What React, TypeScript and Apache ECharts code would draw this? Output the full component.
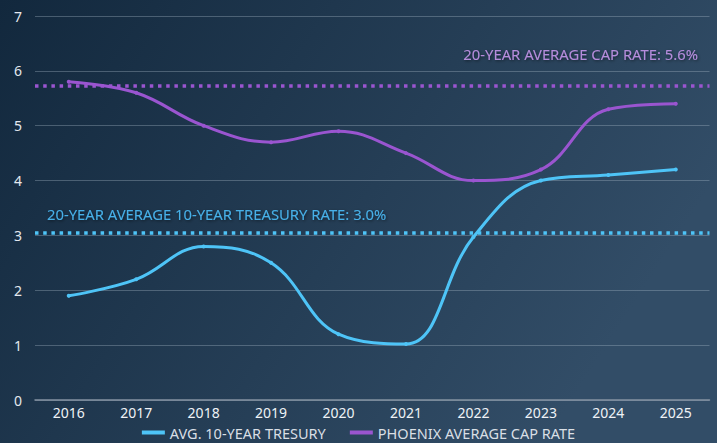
import React, { useEffect, useRef } from "react";
import * as echarts from "echarts";

const years = ["2016", "2017", "2018", "2019", "2020", "2021", "2022", "2023", "2024", "2025"];
const treasury = [1.9, 2.2, 2.8, 2.5, 1.2, 1.02, 2.97, 4.0, 4.1, 4.2];
const capRate = [5.8, 5.6, 5.0, 4.7, 4.9, 4.5, 4.0, 4.2, 5.3, 5.4];
const treasuryAvgLine = 3.04;
const capAvgLine = 5.72;
const treasuryLabel = "20-YEAR AVERAGE 10-YEAR TREASURY RATE: 3.0%";
const capLabel = "20-YEAR AVERAGE CAP RATE: 5.6%";
const seriesNames = ["AVG. 10-YEAR TRESURY", "PHOENIX AVERAGE CAP RATE"];

const FONT = "'Noto Sans', sans-serif";
const BLUE = "#4ec4f7";
const PURPLE = "#9a55d0";

export default function App() {
  const ref = useRef<HTMLDivElement>(null);
  useEffect(() => {
    document.body.style.margin = "0";
    const chart = echarts.init(ref.current!, null, { renderer: "svg" });
    chart.setOption({
      animation: false,
      backgroundColor: {
        type: "linear",
        x: 0,
        y: 0,
        x2: 1,
        y2: 0.4,
        colorStops: [
          { offset: 0, color: "#12283d" },
          { offset: 1, color: "#324d67" },
        ],
      },
      textStyle: { fontFamily: FONT },
      grid: { left: 35, right: 7.5, top: 16, bottom: 43, containLabel: false },
      legend: {
        bottom: 3,
        left: "center",
        icon: "rect",
        itemWidth: 23,
        itemHeight: 4,
        itemGap: 24,
        padding: 0,
        textStyle: { color: "#d9dfe5", fontSize: 14.5, lineHeight: 14, fontFamily: FONT },
        data: seriesNames,
      },
      xAxis: {
        type: "category",
        data: years,
        boundaryGap: true,
        axisLine: { show: true, lineStyle: { color: "#8593a2", width: 1.5 } },
        axisTick: { show: false },
        axisLabel: { color: "#eef2f6", fontSize: 14, lineHeight: 14, margin: 5, fontFamily: FONT },
      },
      yAxis: {
        type: "value",
        min: 0,
        max: 7,
        interval: 1,
        axisLine: { show: false },
        axisTick: { show: false },
        axisLabel: { color: "#e3e8ee", fontSize: 14, margin: 13, fontFamily: FONT },
        splitLine: { lineStyle: { color: "rgba(170,185,200,0.35)", width: 1 } },
      },
      series: [
        {
          name: seriesNames[0],
          type: "line",
          data: treasury,
          smooth: 0.4,
          symbol: "circle",
          symbolSize: 4,
          showSymbol: true,
          itemStyle: { color: BLUE },
          lineStyle: { color: BLUE, width: 3, cap: "round" },
          markLine: {
            silent: true,
            symbol: "none",
            label: { show: false },
            lineStyle: { color: BLUE, width: 3.5, type: [3.5, 4.7] },
            data: [{ yAxis: treasuryAvgLine }],
          },
          z: 3,
        },
        {
          name: seriesNames[1],
          type: "line",
          data: capRate,
          smooth: 0.4,
          symbol: "circle",
          symbolSize: 4,
          showSymbol: true,
          itemStyle: { color: PURPLE },
          lineStyle: { color: PURPLE, width: 3, cap: "round" },
          markLine: {
            silent: true,
            symbol: "none",
            label: { show: false },
            lineStyle: { color: PURPLE, width: 3.5, type: [3.5, 4.7] },
            data: [{ yAxis: capAvgLine }],
          },
          z: 3,
        },
      ],
      graphic: [
        {
          type: "text",
          left: 47,
          top: 206,
          style: {
            text: treasuryLabel,
            fill: "#47b0e8",
            font: `14.8px ${FONT}`,
            textShadowColor: "rgba(0,0,0,0.55)",
            textShadowBlur: 3,
            textShadowOffsetX: 1,
            textShadowOffsetY: 1,
          },
        },
        {
          type: "text",
          right: 19,
          top: 46,
          style: {
            text: capLabel,
            fill: "#b68cdc",
            font: `14.8px ${FONT}`,
            textShadowColor: "rgba(0,0,0,0.55)",
            textShadowBlur: 3,
            textShadowOffsetX: 1,
            textShadowOffsetY: 1,
          },
        },
      ],
    });
    return () => chart.dispose();
  }, []);
  return <div ref={ref} style={{ width: 717, height: 443 }} />;
}
